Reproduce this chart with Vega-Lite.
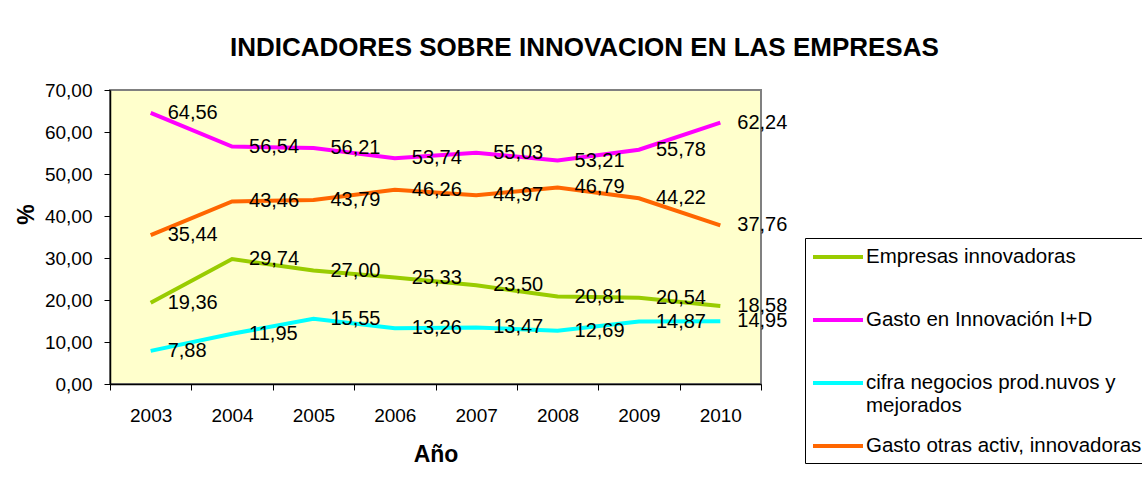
{
  "$schema": "https://vega.github.io/schema/vega-lite/v6.json",
  "width": 651,
  "height": 294,
  "autosize": {"type": "none"},
  "padding": {"left": 110, "top": 90, "right": 381, "bottom": 105},
  "background": "white",
  "config": {
    "locale": {"number": {"decimal": ",", "thousands": ".", "grouping": [3], "currency": ["", " €"]}},
    "font": "Liberation Sans",
    "view": {"fill": "#FFFFCC", "stroke": "#808080", "strokeWidth": 2}
  },
  "title": {
    "text": "INDICADORES SOBRE INNOVACION EN LAS EMPRESAS",
    "anchor": "start",
    "frame": "group",
    "dx": 120,
    "fontSize": 26,
    "fontWeight": "bold",
    "font": "Liberation Sans",
    "color": "black",
    "offset": 20
  },
  "data": {
    "values": [
      {"anio": "2003", "serie": "Empresas innovadoras", "valor": 19.36},
      {"anio": "2004", "serie": "Empresas innovadoras", "valor": 29.74},
      {"anio": "2005", "serie": "Empresas innovadoras", "valor": 27.00},
      {"anio": "2006", "serie": "Empresas innovadoras", "valor": 25.33},
      {"anio": "2007", "serie": "Empresas innovadoras", "valor": 23.50},
      {"anio": "2008", "serie": "Empresas innovadoras", "valor": 20.81},
      {"anio": "2009", "serie": "Empresas innovadoras", "valor": 20.54},
      {"anio": "2010", "serie": "Empresas innovadoras", "valor": 18.58},
      {"anio": "2003", "serie": "Gasto en Innovación I+D", "valor": 64.56},
      {"anio": "2004", "serie": "Gasto en Innovación I+D", "valor": 56.54},
      {"anio": "2005", "serie": "Gasto en Innovación I+D", "valor": 56.21},
      {"anio": "2006", "serie": "Gasto en Innovación I+D", "valor": 53.74},
      {"anio": "2007", "serie": "Gasto en Innovación I+D", "valor": 55.03},
      {"anio": "2008", "serie": "Gasto en Innovación I+D", "valor": 53.21},
      {"anio": "2009", "serie": "Gasto en Innovación I+D", "valor": 55.78},
      {"anio": "2010", "serie": "Gasto en Innovación I+D", "valor": 62.24},
      {"anio": "2003", "serie": "cifra negocios prod.nuvos y mejorados", "valor": 7.88},
      {"anio": "2004", "serie": "cifra negocios prod.nuvos y mejorados", "valor": 11.95},
      {"anio": "2005", "serie": "cifra negocios prod.nuvos y mejorados", "valor": 15.55},
      {"anio": "2006", "serie": "cifra negocios prod.nuvos y mejorados", "valor": 13.26},
      {"anio": "2007", "serie": "cifra negocios prod.nuvos y mejorados", "valor": 13.47},
      {"anio": "2008", "serie": "cifra negocios prod.nuvos y mejorados", "valor": 12.69},
      {"anio": "2009", "serie": "cifra negocios prod.nuvos y mejorados", "valor": 14.87},
      {"anio": "2010", "serie": "cifra negocios prod.nuvos y mejorados", "valor": 14.95},
      {"anio": "2003", "serie": "Gasto otras activ, innovadoras", "valor": 35.44},
      {"anio": "2004", "serie": "Gasto otras activ, innovadoras", "valor": 43.46},
      {"anio": "2005", "serie": "Gasto otras activ, innovadoras", "valor": 43.79},
      {"anio": "2006", "serie": "Gasto otras activ, innovadoras", "valor": 46.26},
      {"anio": "2007", "serie": "Gasto otras activ, innovadoras", "valor": 44.97},
      {"anio": "2008", "serie": "Gasto otras activ, innovadoras", "valor": 46.79},
      {"anio": "2009", "serie": "Gasto otras activ, innovadoras", "valor": 44.22},
      {"anio": "2010", "serie": "Gasto otras activ, innovadoras", "valor": 37.76}
    ]
  },
  "encoding": {
    "x": {
      "field": "anio",
      "type": "ordinal",
      "bandPosition": 0.5,
      "title": "Año",
      "scale": {"type": "band", "paddingInner": 0, "paddingOuter": 0},
      "axis": {
        "labelAngle": 0,
        "tickBand": "extent",
        "tickSize": 6,
        "tickColor": "black",
        "domainColor": "black",
        "domainWidth": 1.5,
        "labelPadding": 16,
        "labelFontSize": 19,
        "labelColor": "black",
        "labelFont": "Liberation Sans",
        "titleFontSize": 23,
        "titleFontWeight": "bold",
        "titleColor": "black",
        "titleFont": "Liberation Sans",
        "titlePadding": 18,
        "grid": false
      }
    },
    "y": {
      "field": "valor",
      "type": "quantitative",
      "title": "%",
      "scale": {"domain": [0, 70]},
      "axis": {
        "values": [0, 10, 20, 30, 40, 50, 60, 70],
        "format": ".2f",
        "tickSize": 6,
        "tickColor": "black",
        "domainColor": "black",
        "domainWidth": 1.5,
        "labelPadding": 12,
        "labelFontSize": 19,
        "labelColor": "black",
        "labelFont": "Liberation Sans",
        "titleFontSize": 23,
        "titleFontWeight": "bold",
        "titleColor": "black",
        "titleFont": "Liberation Sans",
        "titlePadding": 6,
        "titleY": 124,
        "grid": false
      }
    }
  },
  "layer": [
    {
      "mark": {"type": "line", "strokeWidth": 4},
      "encoding": {
        "color": {
          "field": "serie",
          "type": "nominal",
          "scale": {
            "domain": ["Empresas innovadoras", "Gasto en Innovación I+D", "cifra negocios prod.nuvos y mejorados", "Gasto otras activ, innovadoras"],
            "range": ["#99CC00", "#FF00FF", "#00FFFF", "#FF6600"]
          },
          "legend": {
            "orient": "none",
            "legendX": 695,
            "legendY": 148,
            "title": null,
            "strokeColor": "black",
            "fillColor": "white",
            "padding": 6,
            "symbolType": "M-1,0H3.545",
            "symbolSize": 484,
            "symbolStrokeWidth": 4,
            "labelFontSize": 20.5,
            "labelFont": "Liberation Sans",
            "labelColor": "black",
            "labelOffset": 29,
            "labelLimit": 600,
            "rowPadding": 17,
            "gridAlign": "all",
            "labelExpr": "datum.label == 'cifra negocios prod.nuvos y mejorados' ? ['cifra negocios prod.nuvos y', 'mejorados'] : datum.label"
          }
        }
      }
    },
    {
      "mark": {"type": "text", "align": "left", "baseline": "middle", "dx": 17, "fontSize": 20, "font": "Liberation Sans", "color": "black"},
      "encoding": {
        "text": {"field": "valor", "type": "quantitative", "format": ".2f"}
      }
    }
  ]
}
